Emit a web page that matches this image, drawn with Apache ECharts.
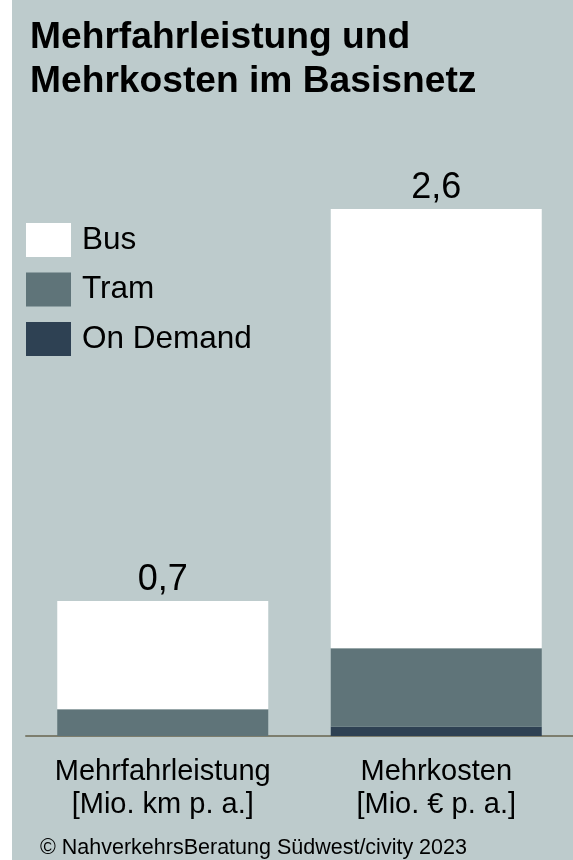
<!DOCTYPE html>
<html>
<head>
<meta charset="utf-8">
<script src="https://cdn.jsdelivr.net/npm/echarts@6/dist/echarts.min.js"></script>
<style>
html,body{margin:0;padding:0;background:#fff;}
#c{width:573px;height:860px;}
</style>
</head>
<body>
<div id="c"></div>
<script>
const categories = ['Mehrfahrleistung\n[Mio. km p. a.]', 'Mehrkosten\n[Mio. € p. a.]'];
const busValues = [0.534, 2.167];
const tramValues = [0.132, 0.387];
const onDemandValues = [0, 0.046];
const totalLabels = ['0,7', '2,6'];
const seriesNames = ['Bus', 'Tram', 'On Demand'];

const FONT = '"Liberation Sans", Arial, Helvetica, sans-serif';
const chart = echarts.init(document.getElementById('c'));
chart.setOption({
  backgroundColor: '#BDCBCC',
  animation: false,
  textStyle: { fontFamily: FONT },
  title: {
    text: 'Mehrfahrleistung und\nMehrkosten im Basisnetz',
    left: 30, top: 16, padding: 0,
    textStyle: { fontFamily: FONT, fontWeight: 'bold', fontSize: 37.2, lineHeight: 44, color: '#000' }
  },
  legend: {
    data: seriesNames,
    orient: 'vertical',
    left: 26, top: 223, padding: 0,
    itemWidth: 45, itemHeight: 34, itemGap: 15.5,
    icon: 'rect',
    textStyle: { fontFamily: FONT, fontSize: 31.5, color: '#000', padding: [0, 0, 0, 6],
      rich: {} },
    formatter: name => name,
    selectedMode: false
  },
  grid: { left: 26, right: 0, top: 128, bottom: 124 },
  xAxis: {
    type: 'category',
    data: categories,
    axisLine: { lineStyle: { color: '#7d7e6e', width: 2 } },
    axisTick: { show: false },
    axisLabel: { interval: 0, fontFamily: FONT, fontSize: 29, lineHeight: 33, color: '#000', margin: 19 }
  },
  yAxis: { type: 'value', min: 0, max: 3, show: false, splitLine: { show: false } },
  series: [
    { name: 'On Demand', type: 'bar', stack: 's', data: onDemandValues, barWidth: 211,
      itemStyle: { color: '#2E4153' } },
    { name: 'Tram', type: 'bar', stack: 's', data: tramValues, barWidth: 211,
      itemStyle: { color: '#5F7479' } },
    { name: 'Bus', type: 'bar', stack: 's', data: busValues, barWidth: 211,
      itemStyle: { color: '#FFFFFF' },
      label: { show: true, position: 'top', distance: 3, fontFamily: FONT, fontSize: 36, color: '#000',
        formatter: p => totalLabels[p.dataIndex] } }
  ],
  graphic: [
    { type: 'rect', left: 0, top: 0, shape: { width: 12, height: 860 }, style: { fill: '#fff' }, z: 100 },
    { type: 'text', left: 40, top: 837, style: { text: '© NahverkehrsBeratung Südwest/civity 2023', fontFamily: FONT, fontSize: 21.5, fill: '#000' } }
  ]
});
</script>
</body>
</html>
